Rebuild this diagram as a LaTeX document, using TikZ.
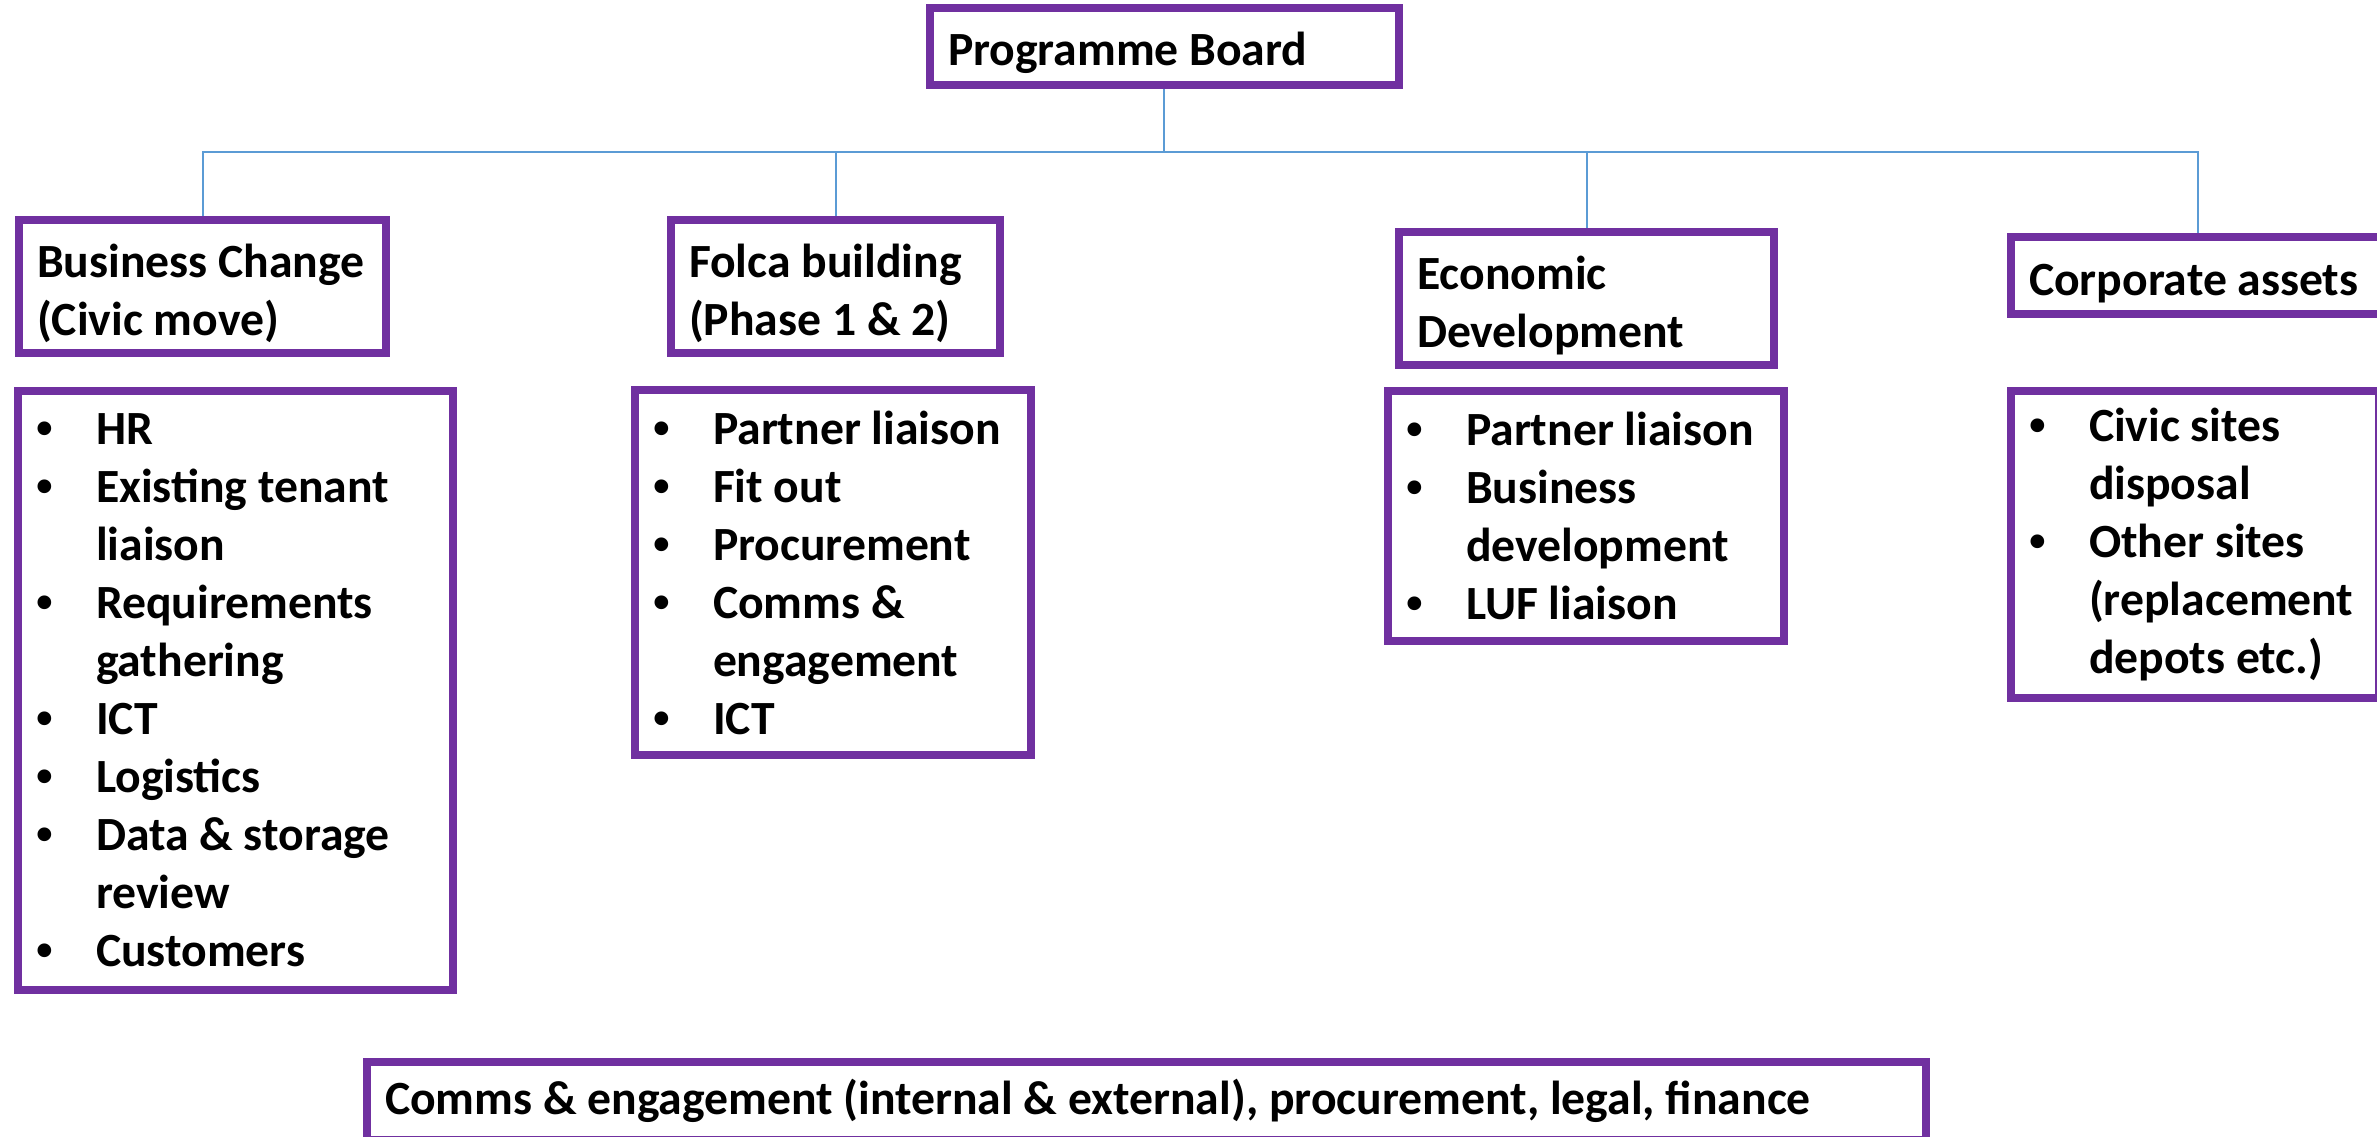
\documentclass[tikz,border=0pt]{standalone}
\usepackage{fontspec}
\setmainfont{Carlito}
\newfontfamily\bulletfont{Liberation Sans}
\usepackage{tikz}

\definecolor{boxpurple}{HTML}{7030A0}
\definecolor{linkblue}{HTML}{5B9BD5}

\newcommand{\itemline}[1]{\makebox[18pt][l]{{\bulletfont\textbullet}}#1}
\newcommand{\contline}[1]{\hspace*{18pt}#1}
\newcommand{\topgap}{\rule{0pt}{14pt}}

\tikzset{
    box/.style={draw=boxpurple, line width=2.4pt, fill=white, inner xsep=5.4pt, inner ysep=0pt,
        align=flush left, font=\fontsize{14.3}{17.4}\selectfont\bfseries,
        execute at begin node={\spaceskip=0pt\xspaceskip=0pt}},
    conn/.style={draw=linkblue, line width=0.6pt}
}

\begin{document}
\begin{tikzpicture}[x=0.3pt, y=-0.3pt]
    \useasboundingbox (0,0) rectangle (2377,1136);

    % top
    \node[box, text width=129.9pt, minimum height=23.1pt] (board) at (1164.5,46.5) {\topgap Programme Board};

    % workstreams
    \node[box, text width=99.3pt, minimum height=39.9pt] (bc) at (202.5,286.5) {\topgap Business Change\\(Civic move)};
    \node[box, text width=87.9pt, minimum height=39.9pt] (fb) at (835.5,286.5) {\topgap Folca building\\(Phase 1 \& 2)};
    \node[box, text width=101.7pt, minimum height=39.9pt] (ed) at (1586.5,298.5) {\topgap Economic\\Development};
    \node[box, text width=101.4pt, minimum height=23.1pt] (ca) at (2198,275.5) {\topgap Corporate assets};

    % lists
    \node[box, text width=119.7pt, minimum height=179.7pt] (bclist) at (235.5,690.5) {%
        \itemline{HR}\\
        \itemline{Existing tenant}\\
        \contline{liaison}\\
        \itemline{Requirements}\\
        \contline{gathering}\\
        \itemline{ICT}\\
        \itemline{Logistics}\\
        \itemline{Data \& storage}\\
        \contline{review}\\
        \itemline{Customers}};
    \node[box, text width=108pt, minimum height=109.5pt] (fblist) at (833,572.5) {%
        \itemline{Partner liaison}\\
        \itemline{Fit out}\\
        \itemline{Procurement}\\
        \itemline{Comms \&}\\
        \contline{engagement}\\
        \itemline{ICT}};
    \node[box, text width=108pt, minimum height=75pt] (edlist) at (1586,516) {%
        \itemline{Partner liaison}\\
        \itemline{Business}\\
        \contline{development}\\
        \itemline{LUF liaison}};
    \node[box, text width=99.6pt, minimum height=92.1pt] (calist) at (2195,544.5) {%
        \itemline{Civic sites}\\
        \contline{disposal}\\
        \itemline{Other sites}\\
        \contline{(replacement}\\
        \contline{depots etc.)}};

    % support
    \node[box, text width=456.9pt, minimum height=23.4pt] (support) at (1146.5,1101) {Comms \& engagement (internal \& external), procurement, legal, finance};

    % connectors
    \coordinate (hub) at (1163.5,152);
    \draw[conn] (board.south -| hub) -- (hub) -| (bc.north);
    \draw[conn] (hub) -| (fb.north);
    \draw[conn] (hub) -| (ed.north);
    \draw[conn] (hub) -| (ca.north);
\end{tikzpicture}
\end{document}
